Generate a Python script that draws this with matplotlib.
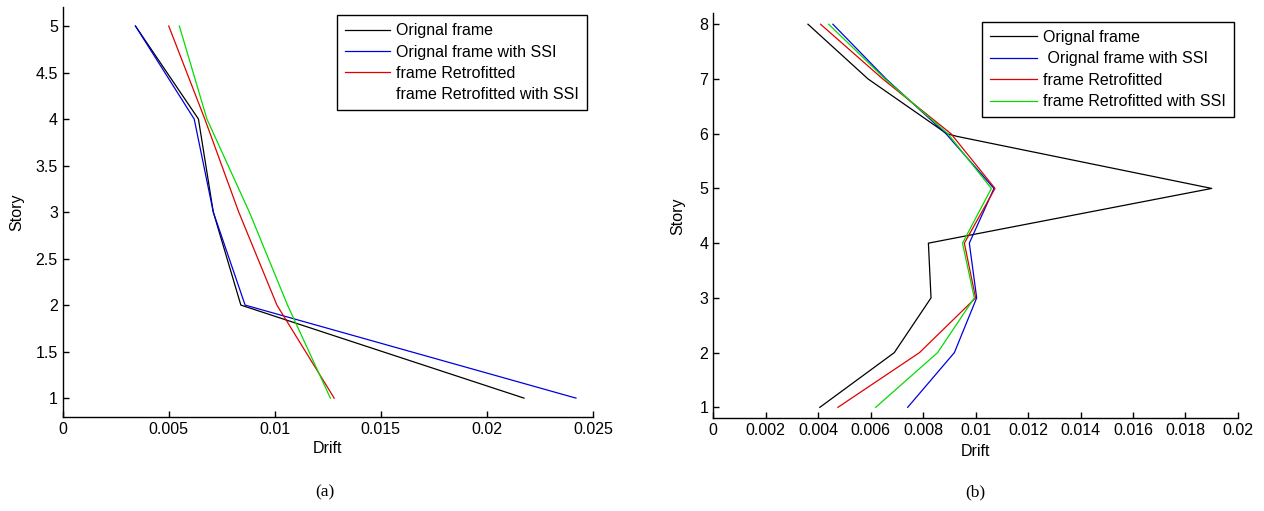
import numpy as np
import matplotlib
matplotlib.use('Agg')
import matplotlib.pyplot as plt

plt.rcParams['font.family'] = ['Liberation Sans', 'DejaVu Sans']

# ── Data: (a) 5-storey frame ─────────────────────────────────────────────────
story_a          = [1, 2, 3, 4, 5]
drift_a_orig     = [0.02175, 0.0084, 0.0071, 0.0064, 0.00343]
drift_a_orig_ssi = [0.0242, 0.0086, 0.0071, 0.0062, 0.00343]
drift_a_retro    = [0.0128, 0.0101, 0.0083, 0.0067, 0.0050]
drift_a_retro_ssi = [0.01262, 0.0106, 0.0088, 0.0068, 0.0055]

# ── Data: (b) 8-storey frame ─────────────────────────────────────────────────
story_b_orig     = [1, 2, 3, 4, 5, 5.95, 6, 7, 8]
drift_b_orig     = [0.00406, 0.0069, 0.0083, 0.0082, 0.0190, 0.0093, 0.0089, 0.0059, 0.00361]
story_b          = [1, 2, 3, 4, 5, 6, 7, 8]
drift_b_orig_ssi = [0.00741, 0.00919, 0.01004, 0.00976, 0.0107, 0.00887, 0.00659, 0.00456]
drift_b_retro    = [0.00475, 0.00786, 0.0100, 0.00957, 0.01074, 0.00906, 0.00646, 0.00409]
drift_b_retro_ssi = [0.00619, 0.00855, 0.00995, 0.0095, 0.0106, 0.00894, 0.00655, 0.0044]

labels_a = ['Orignal frame', 'Orignal frame with SSI', 'frame Retrofitted',
            'frame Retrofitted with SSI']
labels_b = ['Orignal frame', ' Orignal frame with SSI', 'frame Retrofitted',
            'frame Retrofitted with SSI']
colors = ['black', '#0000e0', '#e00000', '#00dd00']

xticks_a = [0, 0.005, 0.01, 0.015, 0.02, 0.025]
xticklabels_a = ['0', '0.005', '0.01', '0.015', '0.02', '0.025']
yticks_a = [1, 1.5, 2, 2.5, 3, 3.5, 4, 4.5, 5]
xticks_b = [0, 0.002, 0.004, 0.006, 0.008, 0.01, 0.012, 0.014, 0.016, 0.018, 0.02]
xticklabels_b = ['0', '0.002', '0.004', '0.006', '0.008', '0.01', '0.012',
                 '0.014', '0.016', '0.018', '0.02']
yticks_b = [1, 2, 3, 4, 5, 6, 7, 8]

fig = plt.figure(figsize=(12.64, 5.11), dpi=100)
ax_a = fig.add_axes([0.0496, 0.1845, 0.4195, 0.801])
ax_b = fig.add_axes([0.5643, 0.1814, 0.4151, 0.7926])


def style_axis(ax):
    for side in ['top', 'right']:
        ax.spines[side].set_visible(False)
    for side in ['left', 'bottom']:
        ax.spines[side].set_linewidth(1.0)
    ax.tick_params(direction='in', length=4, width=1.0, labelsize=11.5,
                   top=False, right=False)


def make_legend(ax, anchor, hl):
    leg = ax.legend(loc='upper right', bbox_to_anchor=anchor,
                    borderaxespad=0, fontsize=11.5, fancybox=False,
                    edgecolor='black', framealpha=1, handlelength=hl,
                    labelspacing=0.4, handletextpad=0.4, borderpad=0.5)
    leg.get_frame().set_linewidth(1.0)
    return leg


# ── Panel (a) ────────────────────────────────────────────────────────────────
series_a = [drift_a_orig, drift_a_orig_ssi, drift_a_retro, drift_a_retro_ssi]
for vals, c, lab in zip(series_a, colors, labels_a):
    ax_a.plot(vals, story_a, color=c, linewidth=0.9, label=lab)
ax_a.set_xlim(0, 0.025)
ax_a.set_ylim(0.8, 5.2)
ax_a.set_xticks(xticks_a)
ax_a.set_xticklabels(xticklabels_a)
ax_a.set_yticks(yticks_a)
ax_a.set_yticklabels([f'{v:g}' for v in yticks_a])
ax_a.set_xlabel('Drift', fontsize=11.5, labelpad=3)
ax_a.set_ylabel('Story', fontsize=11.5, labelpad=8)
style_axis(ax_a)
leg_a = make_legend(ax_a, (0.989, 0.981), 2.8)
# the green sample is missing from the original legend
leg_a.get_lines()[3].set_visible(False)

# ── Panel (b) ────────────────────────────────────────────────────────────────
ax_b.plot(drift_b_orig, story_b_orig, color=colors[0], linewidth=0.9, label=labels_b[0])
ax_b.plot(drift_b_orig_ssi, story_b, color=colors[1], linewidth=0.9, label=labels_b[1])
ax_b.plot(drift_b_retro, story_b, color=colors[2], linewidth=0.9, label=labels_b[2])
ax_b.plot(drift_b_retro_ssi, story_b, color=colors[3], linewidth=0.9, label=labels_b[3])
ax_b.set_xlim(0, 0.02)
ax_b.set_ylim(0.8, 8.2)
ax_b.set_xticks(xticks_b)
ax_b.set_xticklabels(xticklabels_b)
ax_b.set_yticks(yticks_b)
ax_b.set_xlabel('Drift', fontsize=11.5, labelpad=4)
ax_b.set_ylabel('Story', fontsize=11.5, labelpad=10)
style_axis(ax_b)
leg_b = make_legend(ax_b, (0.992, 0.9785), 2.9)

# captions
fig.text(325 / 1264, 1 - 492 / 511, '(a)', ha='center', va='center',
         fontsize=12.5, family='Liberation Serif')
fig.text(975 / 1264, 1 - 492 / 511, '(b)', ha='center', va='center',
         fontsize=12.5, family='Liberation Serif')

fig.savefig('out.png', dpi=100)
plt.close(fig)
